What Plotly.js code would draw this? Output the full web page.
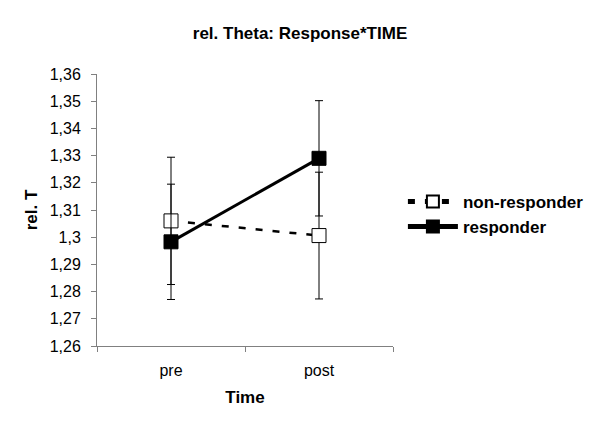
<!DOCTYPE html>
<html><head><meta charset="utf-8">
<script src="https://cdn.plot.ly/plotly-3.0.1.min.js"></script>
<style>body{margin:0;background:#fff}#chart{width:600px;height:427px}</style>
</head><body><div id="chart"></div>
<script>
const categories = ["pre", "post"];
const nonResponder = [1.306, 1.3006];
const nonResponderErr = [0.0234, 0.0233];
const responder = [1.2983, 1.329];
const responderErr = [0.0212, 0.0212];
const yTicks = [1.26, 1.27, 1.28, 1.29, 1.30, 1.31, 1.32, 1.33, 1.34, 1.35, 1.36];

const font = "Liberation Sans, Arial, sans-serif";
const traces = [
  {
    x: categories, y: nonResponder, name: "non-responder", type: "scatter", mode: "lines+markers",
    line: {color: "#000", width: 2.5, dash: "7px,10px"},
    marker: {symbol: "square", size: 14, color: "#fff", line: {color: "#000", width: 1}},
    error_y: {type: "data", array: nonResponderErr, visible: true, color: "#000", thickness: 1, width: 4}
  },
  {
    x: categories, y: responder, name: "responder", type: "scatter", mode: "lines+markers",
    line: {color: "#000", width: 3},
    marker: {symbol: "square", size: 14, color: "#000", line: {color: "#000", width: 1}},
    error_y: {type: "data", array: responderErr, visible: true, color: "#000", thickness: 1, width: 4}
  }
];
const layout = {
  width: 600, height: 427,
  margin: {l: 97, r: 206, t: 74, b: 81},
  paper_bgcolor: "#fff", plot_bgcolor: "#fff",
  separators: ",.",
  font: {family: font, size: 16, color: "#000"},
  title: {text: "<b>rel. Theta: Response*TIME</b>", x: 0.5, xanchor: "center", y: 0.922, yanchor: "middle", font: {size: 17, family: font}},
  xaxis: {
    type: "category", range: [-0.5, 1.5], tickson: "boundaries",
    showline: true, linecolor: "#808080", linewidth: 1,
    ticks: "outside", ticklen: 5, tickcolor: "#808080", showgrid: false, zeroline: false,
    ticklabelstandoff: 10,
    tickfont: {size: 16, family: font},
    title: {text: "<b>Time</b>", font: {size: 17, family: font}, standoff: 12}
  },
  yaxis: {
    range: [1.26, 1.36], tickvals: yTicks, ticktext: yTicks.map(v => String(+v.toFixed(2)).replace(".", ",")),
    showline: true, linecolor: "#808080", linewidth: 1,
    ticks: "outside", ticklen: 5, tickcolor: "#808080", showgrid: false, zeroline: false,
    ticklabelstandoff: 7,
    tickfont: {size: 16, family: font},
    title: {text: "<b>rel. T</b>", font: {size: 17, family: font}, standoff: 7}
  },
  showlegend: true,
  legend: {x: 1.03, xanchor: "left", y: 0.596, yanchor: "top", font: {size: 17, family: font, weight: "bold"},
    bgcolor: "rgba(0,0,0,0)", itemwidth: 50, itemsizing: "constant", tracegroupgap: 0, traceorder: "normal"}
};
Plotly.newPlot("chart", traces, layout, {displayModeBar: false, staticPlot: true});
</script></body></html>
